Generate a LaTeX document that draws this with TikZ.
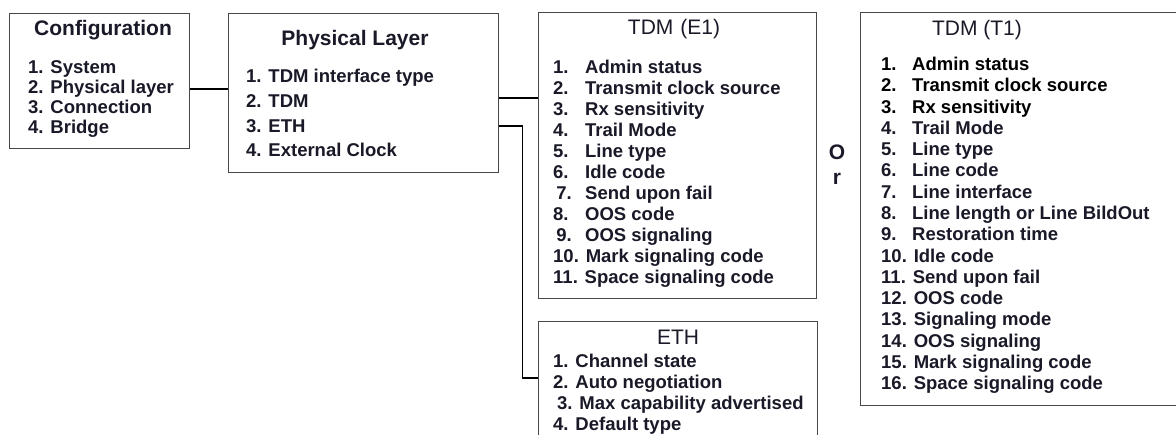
\documentclass[tikz,border=0pt]{standalone}
\usepackage{fontspec}
\setmainfont{Liberation Sans}
\definecolor{ink}{RGB}{25,25,40}
\begin{document}
\begin{tikzpicture}[x=1pt,y=-1pt,
  panel/.style={draw=black!72, line width=1.4pt, inner sep=0pt, anchor=north west},
  heading/.style={font=\fontsize{21}{25}\selectfont, text=ink, anchor=base},
  items/.style={font=\bfseries\fontsize{18.5}{21}\selectfont, text=ink, align=left, inner sep=0pt, anchor=north west},
  wire/.style={line width=1.3pt}]

\useasboundingbox (0,0) rectangle (1176,435);
\clip (0,0) rectangle (1176,435);

% boxes
\node[panel, minimum width=180pt, minimum height=135pt] (cfg) at (9,13) {};
\node[panel, minimum width=270pt, minimum height=159pt] (phys) at (228,13) {};
\node[panel, minimum width=278pt, minimum height=286pt] (e1) at (538,12) {};
\node[panel, minimum width=279pt, minimum height=140pt] (eth) at (538,321) {};
\node[panel, minimum width=330pt, minimum height=393pt] (t1) at (860,12) {};

% headings
\node[heading, font=\bfseries\fontsize{21}{25}\selectfont] (cfgtitle) at (103,35.5) {Configuration};
\node[heading, font=\bfseries\fontsize{21}{25}\selectfont] (phystitle) at (355,45.5) {Physical Layer};
\node[heading] (e1title) at (674,34.5) {TDM\hspace{7pt}(E1)};
\node[heading] (t1title) at (977,35.5) {TDM (T1)};
\node[heading] (ethtitle) at (678,344.5) {ETH};

% lists
\node[items, font=\bfseries\fontsize{18.5}{20}\selectfont] (cfglist) at (28,60) {1. System\\2. Physical layer\\3. Connection\\4. Bridge};
\node[items, font=\bfseries\fontsize{18.5}{24.7}\selectfont] (physlist) at (246,69) {1. TDM interface type\\2. TDM\\3. ETH\\4. External Clock};
\node[items] (e1list) at (553,60) {%
  \makebox[32pt][l]{1.}Admin status\\
  \makebox[32pt][l]{2.}Transmit clock source\\
  \makebox[32pt][l]{3.}Rx sensitivity\\
  \makebox[32pt][l]{4.}Trail Mode\\
  \makebox[32pt][l]{5.}Line type\\
  \makebox[32pt][l]{6.}Idle code\\
  \makebox[32pt][l]{\,7.}Send upon fail\\
  \makebox[32pt][l]{8.}OOS code\\
  \makebox[32pt][l]{\,9.}OOS signaling\\
  10. Mark signaling code\\
  11. Space signaling code};
\node[items, font=\bfseries\fontsize{18.5}{21.27}\selectfont] (t1list) at (881,57) {%
  \textcolor{black}{\makebox[31pt][l]{1.}Admin status}\\
  \textcolor{black}{\makebox[31pt][l]{2.}Transmit clock source}\\
  \textcolor{black}{\makebox[31pt][l]{3.}Rx sensitivity}\\
  \makebox[31pt][l]{4.}Trail Mode\\
  \makebox[31pt][l]{5.}Line type\\
  \makebox[31pt][l]{6.}Line code\\
  \makebox[31pt][l]{7.}Line interface\\
  \makebox[31pt][l]{8.}Line length or Line BildOut\\
  \makebox[31pt][l]{9.}Restoration time\\
  10. Idle code\\
  11. Send upon fail\\
  12. OOS code\\
  13. Signaling mode\\
  14. OOS signaling\\
  15. Mark signaling code\\
  16. Space signaling code};
\node[items] (ethlist) at (553,354) {1. Channel state\\2. Auto negotiation\\\hspace{4pt}3. Max capability advertised\\4. Default type};

% the "Or" between the two TDM boxes
\node[font=\bfseries\fontsize{21}{25}\selectfont, text=ink, align=center] (ortext) at (837,165) {O\\r};

% connectors
\coordinate (cfgout) at (cfg.east |- 0,89);
\coordinate (tdmout) at (phys.east |- 0,98);
\coordinate (ethout) at (phys.east |- 0,126);
\coordinate (ethin) at (eth.west |- 0,378);
\draw[wire] (cfgout) -- (phys.west |- cfgout);
\draw[wire] (tdmout) -- (e1.west |- tdmout);
\draw[wire] (ethout) -- ++(23,0) |- (ethin);

\end{tikzpicture}
\end{document}
